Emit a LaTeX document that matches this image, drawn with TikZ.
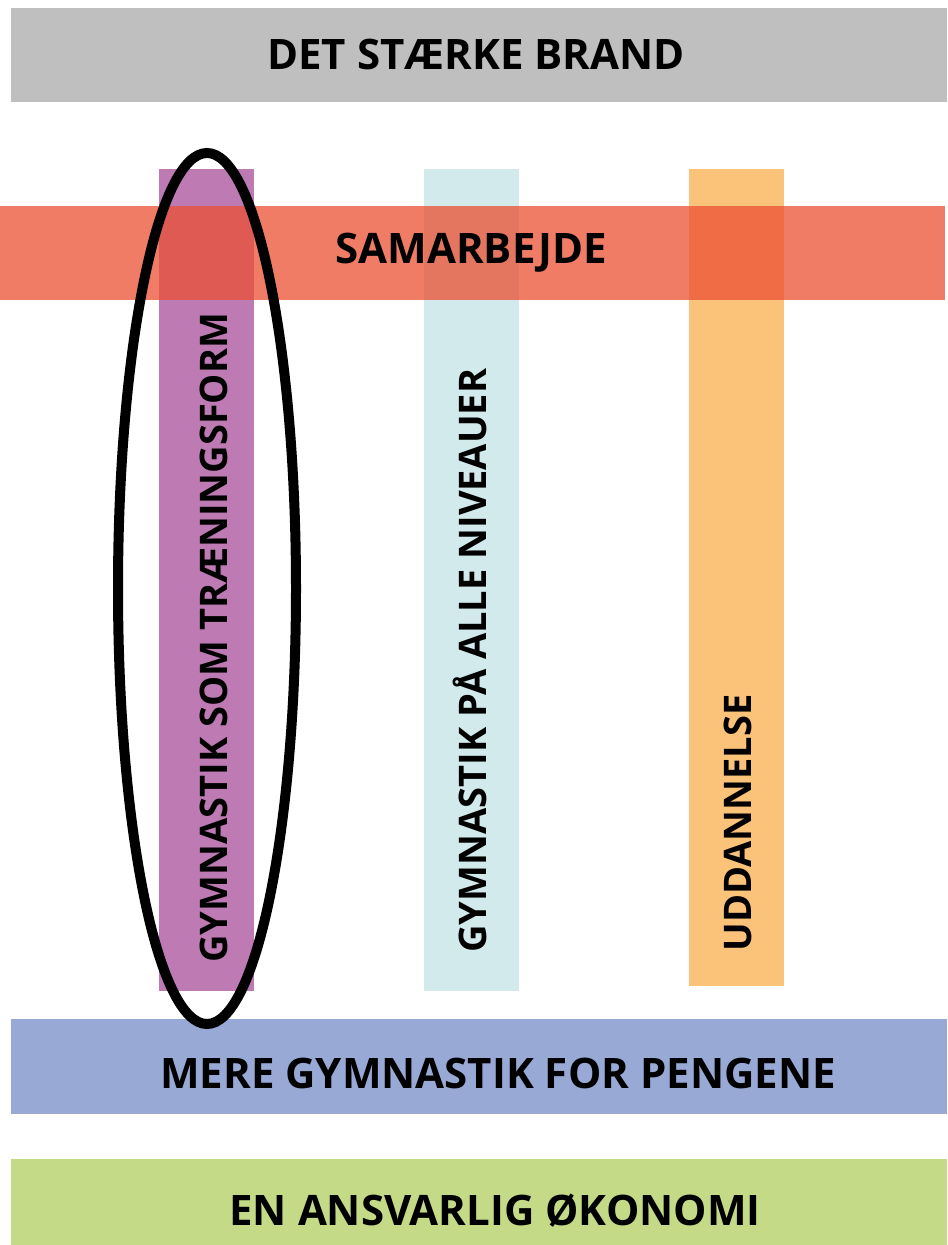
\documentclass[tikz,border=0pt]{standalone}
\usepackage{fontspec}
\setmainfont{Open Sans}
\usepackage{tikz}
\usetikzlibrary{shapes.geometric}
\definecolor{graa}{RGB}{191,191,191}
\definecolor{roed}{RGB}{235,80,50}
\definecolor{lilla}{RGB}{189,122,179}
\definecolor{turkis}{RGB}{210,234,236}
\definecolor{orange}{RGB}{251,194,122}
\definecolor{blaa}{RGB}{152,169,214}
\definecolor{groen}{RGB}{196,218,135}
\tikzset{bar/.style = {shape=rectangle,inner sep=0pt,minimum width=468pt,minimum height=47pt}}
\tikzset{column/.style = {shape=rectangle,inner sep=0pt,minimum width=47.5pt,minimum height=411pt}}
\tikzset{bartext/.style = {font=\bfseries\fontsize{21}{25}\selectfont,text height=15pt,text depth=0pt,inner sep=0pt}}
\tikzset{coltext/.style = {bartext,font=\bfseries\fontsize{19}{23}\selectfont,text height=13.5pt,rotate=90,anchor=west}}
\tikzset{ring/.style = {shape=ellipse,draw,line width=5pt,minimum width=89pt,minimum height=435.5pt,inner sep=0pt}}

\begin{document}
\begin{tikzpicture}[x=0.5pt,y=-0.5pt]
\useasboundingbox (0,0) rectangle (947,1245);
% columns
\node[column,fill=lilla] (c1) at (206.5,580) {};
\node[column,fill=turkis] (c2) at (471.5,580) {};
\node[column,fill=orange,minimum height=408.5pt] (c3) at (736.5,577.5) {};
% bars
\node[bar,fill=graa] (b1) at (479,55) {};
\node[bar,fill=roed,fill opacity=0.75,minimum width=472.5pt] (b2) at (472.5,253) {};
\node[bar,fill=blaa,minimum height=47.5pt] (b3) at (479,1066.5) {};
\node[bar,fill=groen,minimum height=43pt] (b4) at (479,1202) {};
% texts
\node[bartext] (t1) at (476,55) {DET STÆRKE BRAND};
\node[bartext] (t2) at (471,249) {SAMARBEJDE};
\node[bartext] (t3) at (498,1073) {MERE GYMNASTIK FOR PENGENE};
\node[bartext] (t4) at (495,1210) {EN ANSVARLIG ØKONOMI};
\node[coltext] (v1) at (214,963) {GYMNASTIK SOM TRÆNINGSFORM};
\node[coltext] (v2) at (472.5,953) {GYMNASTIK PÅ ALLE NIVEAUER};
\node[coltext] (v3) at (737.5,952) {UDDANNELSE};
% ring
\node[ring] (r) at (207,588.5) {};
\end{tikzpicture}
\end{document}
